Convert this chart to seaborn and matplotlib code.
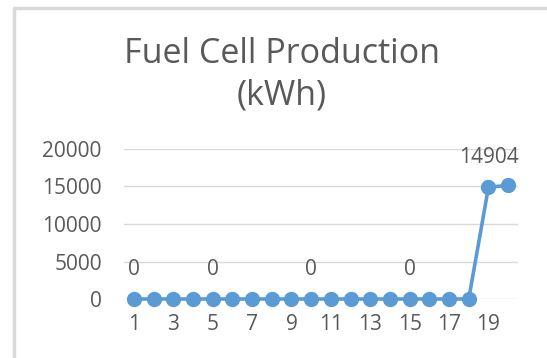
import numpy as np
import pandas as pd
import matplotlib
matplotlib.use("Agg")
import matplotlib.pyplot as plt
import seaborn as sns
from matplotlib.lines import Line2D

# dados
periodos = list(range(1, 21))
producao = [0] * 18 + [14904, 15150]
rotulos_idx = [1, 5, 10, 15, 19]   # pontos com rótulo de dados
ticks_x = list(range(1, 21, 2))
ticks_y = [0, 5000, 10000, 15000, 20000]

df = pd.DataFrame({"periodo": periodos, "kwh": producao})

sns.set_theme(style="white")
plt.rcParams["font.family"] = ["Open Sans", "DejaVu Sans"]
cinza = "#595959"
azul = "#5b9bd5"

fig = plt.figure(figsize=(5.47, 3.58), dpi=100)
ax = fig.add_axes([124 / 547, 1 - 299 / 358, 394 / 547, 150 / 358])

# grade
for v in ticks_y:
    ax.axhline(v, color="#d9d9d9", lw=1, zorder=0)

sns.lineplot(data=df, x="periodo", y="kwh", ax=ax, color=azul, lw=2.6,
             marker="o", markersize=11, markeredgewidth=0, clip_on=False, zorder=3)

# rótulos de dados
for p in rotulos_idx:
    v = producao[p - 1]
    ax.text(p, v + 2500, str(v), ha="center", va="bottom",
            fontsize=15, color=cinza)

ax.set_xlim(0.5, 20.5)
ax.set_ylim(0, 20000)
ax.set_xticks(ticks_x)
ax.set_xticklabels([str(t) for t in ticks_x])
ax.set_yticks(ticks_y)
ax.set_yticklabels([str(t) for t in ticks_y])
ax.tick_params(axis="both", labelsize=15, colors=cinza, length=0)
ax.tick_params(axis="y", pad=16)
ax.tick_params(axis="x", pad=11)
ax.set_xlabel("")
ax.set_ylabel("")
sns.despine(ax=ax, left=True, bottom=True, top=True, right=True)

fig.text(282 / 547, 1 - 75 / 358, "Fuel Cell Production\n(kWh)", ha="center",
         va="center", fontsize=24.5, color=cinza, linespacing=1.3)

# moldura parcial (captura de tela)
fig.add_artist(Line2D([14 / 547, 14 / 547], [0, 1 - 8 / 358], color="#d9d9d9", lw=2.5))
fig.add_artist(Line2D([14 / 547, 1], [1 - 8 / 358, 1 - 8 / 358], color="#d9d9d9", lw=2.5))

fig.savefig("out.png", dpi=100)
